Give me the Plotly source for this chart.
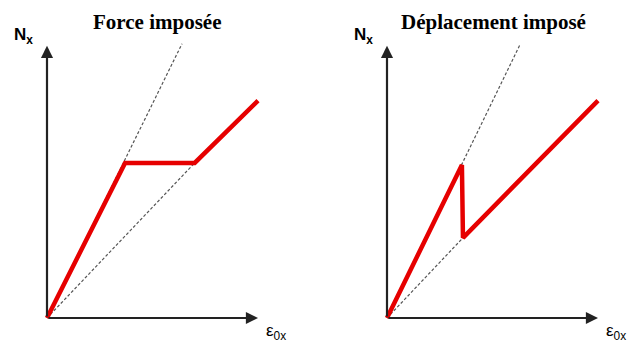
import plotly.graph_objects as go

W, H = 630, 344
PX = 21.1  # pixels per data unit

# ---- data (abstract units) ----
titles = ["Force imposée", "Déplacement imposé"]
force_x = [0, 3.7, 7.0, 10.0]
force_y = [0, 7.35, 7.35, 10.3]
force_steep_x = [0, 6.4]
force_steep_y = [0, 13.0]
force_low_x = [0, 7.0]
force_low_y = [0, 7.35]

disp_x = [0, 3.55, 3.6, 10.0]
disp_y = [0, 7.25, 3.8, 10.3]
disp_steep_x = [0, 6.3]
disp_steep_y = [0, 12.95]
disp_low_x = [0, 3.6]
disp_low_y = [0, 3.8]

axis_len_x = 10.0
axis_len_y = 12.9

RED = "#e60000"
DASH = "#555555"
AX = "#222222"

origins = [47, 387]  # pixel x of origin per panel
origin_py = 318
left_px, right_px = -7, 223  # panel extent relative to origin
top_py, bot_py = 30, 330

fig = go.Figure()

panels = [
    (force_x, force_y, force_steep_x, force_steep_y, force_low_x, force_low_y),
    (disp_x, disp_y, disp_steep_x, disp_steep_y, disp_low_x, disp_low_y),
]

layout = dict(width=W, height=H, margin=dict(l=0, r=0, t=0, b=0),
              paper_bgcolor="white", plot_bgcolor="rgba(0,0,0,0)",
              showlegend=False)
annotations = []
for i, (rx, ry, sx, sy, lx, ly) in enumerate(panels):
    n = "" if i == 0 else str(i + 1)
    xa, ya = "x" + n, "y" + n
    ox = origins[i]
    x0p, x1p = ox + left_px, ox + right_px
    layout["xaxis" + n] = dict(domain=[x0p / W, x1p / W],
                               range=[left_px / PX, right_px / PX],
                               visible=False, fixedrange=True)
    layout["yaxis" + n] = dict(domain=[(H - bot_py) / H, (H - top_py) / H],
                               range=[(origin_py - bot_py) / PX, (origin_py - top_py) / PX],
                               visible=False, fixedrange=True)
    for xs, ys in [(sx, sy), (lx, ly)]:
        fig.add_trace(go.Scatter(x=xs, y=ys, mode="lines", xaxis=xa, yaxis=ya,
                                 line=dict(color=DASH, width=1.2, dash="3px,2px"),
                                 hoverinfo="skip"))
    fig.add_trace(go.Scatter(x=rx, y=ry, mode="lines", xaxis=xa, yaxis=ya,
                             line=dict(color=RED, width=4.5), hoverinfo="skip"))
    # axes arrows
    for (hx, hy) in [(axis_len_x, 0), (0, axis_len_y)]:
        annotations.append(dict(x=hx, y=hy, ax=0, ay=0, xref=xa, yref=ya,
                                axref=xa, ayref=ya, showarrow=True, text="",
                                arrowhead=2, arrowsize=1.1, arrowwidth=2.2,
                                arrowcolor=AX))
    # title
    annotations.append(dict(text="<b>" + titles[i] + "</b>", x=[157, 493][i] / W,
                            y=1 - 22 / H, xref="paper", yref="paper",
                            showarrow=False, xanchor="center", yanchor="middle",
                            font=dict(family="Liberation Serif", size=21, color="black")))
    # N_x label
    annotations.append(dict(text="<b>N<sub>x</sub></b>", x=(ox - 35) / W,
                            y=1 - 36 / H, xref="paper", yref="paper",
                            showarrow=False, xanchor="left", yanchor="middle",
                            font=dict(family="Liberation Sans", size=17, color="black")))
    # eps label
    annotations.append(dict(text="ε<sub>0x</sub>", x=(ox + 217) / W,
                            y=1 - 332 / H, xref="paper", yref="paper",
                            showarrow=False, xanchor="left", yanchor="middle",
                            font=dict(family="Liberation Sans", size=17, color="black")))

layout["annotations"] = annotations
fig.update_layout(**layout)
fig.write_html("out.html", config={"displayModeBar": False, "staticPlot": True},
               post_script="document.body.style.margin='0';document.body.style.overflow='hidden';")
